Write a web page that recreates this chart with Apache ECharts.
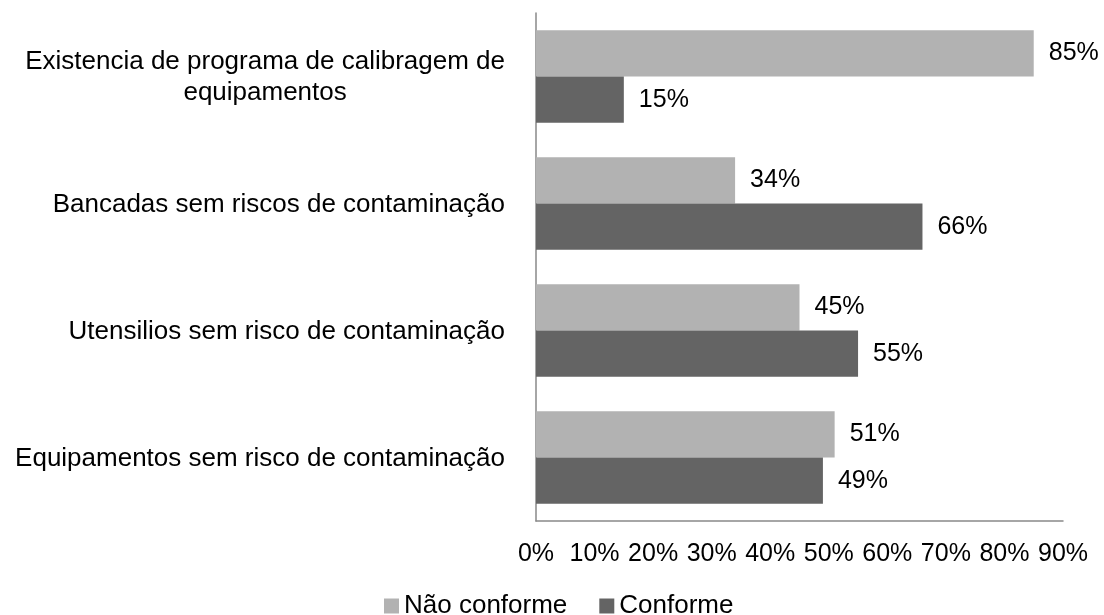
<!DOCTYPE html>
<html>
<head>
<meta charset="utf-8">
<script src="https://cdn.jsdelivr.net/npm/echarts@6/dist/echarts.min.js"></script>
<style>html,body{margin:0;padding:0;background:#fff;}#c{width:1104px;height:615px;}</style>
</head>
<body>
<div id="c"></div>
<script>
const categories = [
  'Existencia de programa de calibragem de\nequipamentos',
  'Bancadas sem riscos de contaminação',
  'Utensilios sem risco de contaminação',
  'Equipamentos sem risco de contaminação'
];
const seriesNames = ['Não conforme', 'Conforme'];
const naoConforme = [85, 34, 45, 51];
const conforme = [15, 66, 55, 49];
const xTicks = [0, 10, 20, 30, 40, 50, 60, 70, 80, 90];

const FONT = '"Liberation Sans", Arial, sans-serif';
const chart = echarts.init(document.getElementById('c'));
chart.setOption({
  animation: false,
  backgroundColor: '#ffffff',
  textStyle: { fontFamily: FONT },
  legend: {
    data: seriesNames,
    top: 593,
    left: 384,
    padding: 0,
    itemWidth: 15,
    itemHeight: 15,
    itemGap: 32,
    icon: 'rect',
    textStyle: { fontSize: 26, color: '#000', fontFamily: FONT }
  },
  grid: { left: 536, right: 41, top: 13, bottom: 94, containLabel: false },
  xAxis: {
    type: 'value',
    min: xTicks[0],
    max: xTicks[xTicks.length - 1],
    interval: 10,
    axisLine: { show: true, lineStyle: { color: '#898989', width: 1.5 } },
    axisTick: { show: false },
    splitLine: { show: false },
    axisLabel: { formatter: '{value}%', fontSize: 25, color: '#000', margin: 21, fontFamily: FONT }
  },
  yAxis: {
    type: 'category',
    inverse: true,
    data: categories,
    axisLine: { show: true, lineStyle: { color: '#898989', width: 1.5 } },
    axisTick: { show: false },
    axisLabel: {
      fontSize: 26, color: '#000', margin: 31, fontFamily: FONT,
      formatter: function (v) { return v.split('\n').map(function (l) { return '{c|' + l + '}'; }).join('\n'); },
      rich: { c: { fontSize: 26, color: '#000', align: 'center', lineHeight: 31, fontFamily: FONT, padding: [2, 0, 0, 0] } }
    }
  },
  series: [
    {
      name: seriesNames[0], type: 'bar', data: naoConforme,
      barGap: '0%', barCategoryGap: '27%',
      itemStyle: { color: '#b2b2b2' },
      label: { show: true, position: 'right', distance: 15, formatter: '{c}%', fontSize: 25, color: '#000', fontFamily: FONT }
    },
    {
      name: seriesNames[1], type: 'bar', data: conforme,
      barGap: '0%', barCategoryGap: '27%',
      itemStyle: { color: '#646464' },
      label: { show: true, position: 'right', distance: 15, formatter: '{c}%', fontSize: 25, color: '#000', fontFamily: FONT }
    }
  ]
});
</script>
</body>
</html>
